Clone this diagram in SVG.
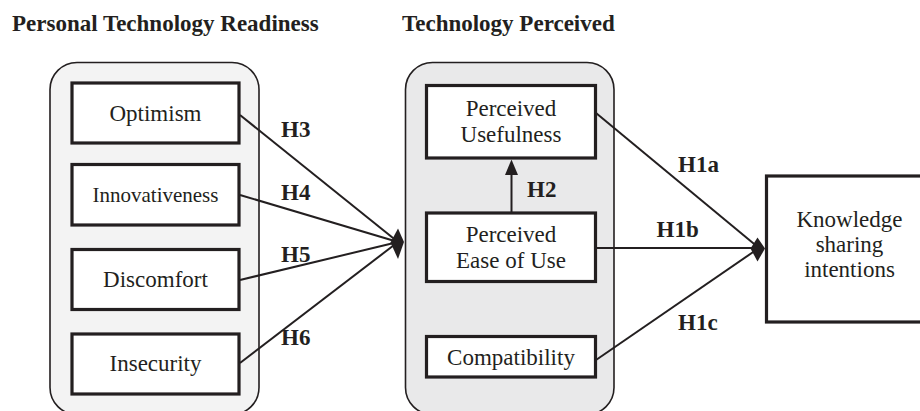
<svg xmlns="http://www.w3.org/2000/svg" width="920" height="411" viewBox="0 0 920 411">
  <style>
    .title { font-family: "Liberation Serif", "Times New Roman", serif; font-size: 23px; font-weight: bold; fill: #231f20; }
    .lbl { font-family: "Liberation Serif", "Times New Roman", serif; font-size: 23px; fill: #231f20; text-anchor: middle; }
    .hyp { font-family: "Liberation Serif", "Times New Roman", serif; font-size: 23px; font-weight: bold; fill: #231f20; }
    .panel { stroke: #231f20; stroke-width: 1.6; }
    .box { fill: #ffffff; stroke: #231f20; stroke-width: 3.2; }
    .edge { stroke: #231f20; stroke-width: 2; fill: none; }
    .head { fill: #231f20; }
  </style>

  <!-- Group headings -->
  <text class="title" x="12" y="31">Personal Technology Readiness</text>
  <text class="title" x="402" y="31">Technology Perceived</text>

  <!-- Group panels -->
  <g id="panel-readiness">
    <rect class="panel" x="50" y="62.5" width="209" height="352" rx="27" fill="#f3f3f3"/>
  </g>
  <g id="panel-perceived">
    <rect class="panel" x="405.5" y="62.5" width="208.5" height="352" rx="27" fill="#e9e9ea"/>
  </g>

  <!-- Readiness constructs -->
  <g id="optimism">
    <rect class="box" x="72" y="83" width="167" height="60"/>
    <text class="lbl" x="155.5" y="121">Optimism</text>
  </g>
  <g id="innovativeness">
    <rect class="box" x="72" y="164.5" width="167" height="60.5"/>
    <text class="lbl" x="155.5" y="202" style="font-size:21px">Innovativeness</text>
  </g>
  <g id="discomfort">
    <rect class="box" x="72" y="249.5" width="167" height="60"/>
    <text class="lbl" x="155.5" y="287">Discomfort</text>
  </g>
  <g id="insecurity">
    <rect class="box" x="72" y="334" width="167" height="60"/>
    <text class="lbl" x="155.5" y="371">Insecurity</text>
  </g>

  <!-- Perceived technology constructs -->
  <g id="perceived-usefulness">
    <rect class="box" x="426.5" y="85.5" width="169" height="72.5"/>
    <text class="lbl" x="511" y="116">Perceived</text>
    <text class="lbl" x="511" y="142">Usefulness</text>
  </g>
  <g id="perceived-ease-of-use">
    <rect class="box" x="426.5" y="213" width="169" height="68.5"/>
    <text class="lbl" x="511" y="242">Perceived</text>
    <text class="lbl" x="511" y="268">Ease of Use</text>
  </g>
  <g id="compatibility">
    <rect class="box" x="426.5" y="336.5" width="169" height="40.5"/>
    <text class="lbl" x="511" y="365">Compatibility</text>
  </g>

  <!-- Outcome -->
  <g id="knowledge-sharing-intentions">
    <rect class="box" x="766.5" y="176" width="170" height="146"/>
    <text class="lbl" x="849.5" y="227">Knowledge</text>
    <text class="lbl" x="849.5" y="252">sharing</text>
    <text class="lbl" x="849.5" y="277">intentions</text>
  </g>

  <!-- Hypothesised paths -->
  <g id="connectors">
    <line class="edge" x1="240" y1="115" x2="398" y2="242"/>
    <line class="edge" x1="240" y1="195" x2="398" y2="242"/>
    <line class="edge" x1="240" y1="280" x2="398" y2="242"/>
    <line class="edge" x1="240" y1="363" x2="398" y2="242"/>
    <polygon class="head" points="404,242 398,228.5 390.5,242.5 398,259"/>

    <line class="edge" x1="511.5" y1="212" x2="511.5" y2="172"/>
    <polygon class="head" points="511.5,159.5 505,175 518,175"/>

    <line class="edge" x1="596" y1="113" x2="759" y2="248"/>
    <line class="edge" x1="596" y1="248" x2="759" y2="248"/>
    <line class="edge" x1="596" y1="360" x2="759" y2="248"/>
    <polygon class="head" points="765,248.5 757.5,237.5 750.5,248.5 757.5,261.5"/>

    <text class="hyp" x="281" y="137">H3</text>
    <text class="hyp" x="281" y="200">H4</text>
    <text class="hyp" x="281" y="262">H5</text>
    <text class="hyp" x="281" y="345">H6</text>
    <text class="hyp" x="527" y="196.5">H2</text>
    <text class="hyp" x="678" y="171.5">H1a</text>
    <text class="hyp" x="656.5" y="236.5">H1b</text>
    <text class="hyp" x="678" y="330">H1c</text>
  </g>
</svg>
